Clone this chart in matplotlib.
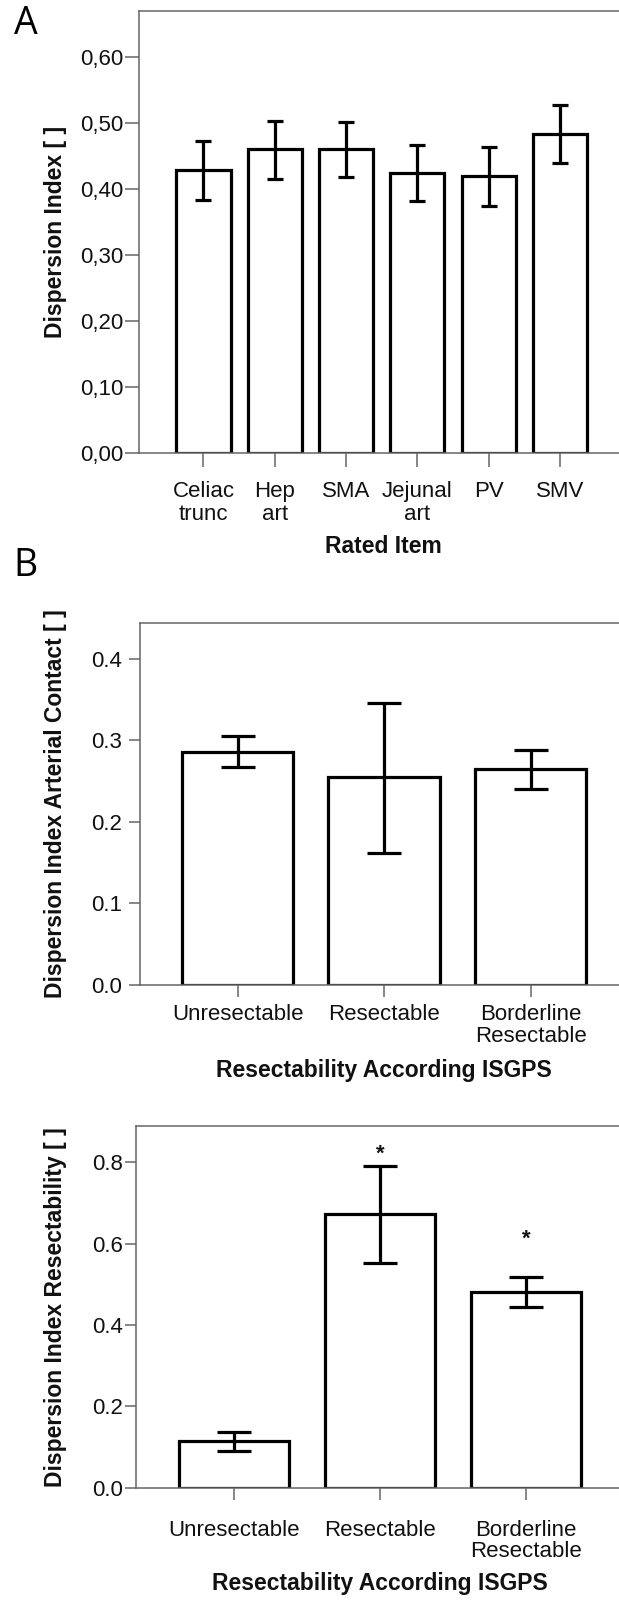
import numpy as np
import matplotlib
matplotlib.use("Agg")
import matplotlib.pyplot as plt

# Panel A - dispersion index per rated item
itemsA = ["Celiac\ntrunc", "Hep\nart", "SMA", "Jejunal\nart", "PV", "SMV"]
meanA = [0.428, 0.460, 0.460, 0.424, 0.419, 0.483]
upperA = [0.473, 0.503, 0.502, 0.466, 0.464, 0.527]
lowerA = [0.383, 0.415, 0.418, 0.381, 0.374, 0.439]
ticksA = [0.0, 0.1, 0.2, 0.3, 0.4, 0.5, 0.6]

# Panel B - arterial contact / resectability by ISGPS group
groups = ["Unresectable", "Resectable", "Borderline\nResectable"]
meanB = [0.286, 0.255, 0.265]
upperB = [0.306, 0.346, 0.288]
lowerB = [0.267, 0.162, 0.241]
ticksB = [0.0, 0.1, 0.2, 0.3, 0.4]

meanC = [0.116, 0.672, 0.481]
upperC = [0.138, 0.791, 0.517]
lowerC = [0.091, 0.552, 0.444]
ticksC = [0.0, 0.2, 0.4, 0.6, 0.8]
starsC = [(1, 0.837), (2, 0.628)]

W, H = 619, 1601
SPINE = "#666666"
TXT = "#111111"
plt.rcParams["font.family"] = ["Liberation Sans", "DejaVu Sans"]

fig = plt.figure(figsize=(W / 100, H / 100), dpi=100)


def addAxes(left, top, bottom, width):
    """Axes placed in pixel coordinates of the figure."""
    return fig.add_axes([left / W, 1 - bottom / H, width / W, (bottom - top) / H])


def barPanel(ax, names, mean, lower, upper, ticks, fmt, xlim, ylim, capsize,
             ytickLen, ypad, xtickLen, xpad, lspace, ylabel, ylabCoords):
    x = np.arange(len(names))
    m = np.array(mean)
    err = [m - np.array(lower), np.array(upper) - m]
    ax.bar(x, m, width=0.76, color="white", edgecolor="black", linewidth=2.3, zorder=2)
    ax.errorbar(x, m, yerr=err, fmt="none", ecolor="black", elinewidth=2.3,
                capsize=capsize, capthick=2.3, zorder=3)
    ax.set_xlim(*xlim)
    ax.set_ylim(*ylim)
    ax.set_yticks(ticks)
    ax.set_yticklabels([fmt(t) for t in ticks], fontsize=16, color=TXT)
    ax.set_xticks(x)
    ax.set_xticklabels(names, fontsize=16, color=TXT, linespacing=lspace)
    ax.spines["right"].set_visible(False)
    for s in ["left", "top", "bottom"]:
        ax.spines[s].set_color(SPINE)
        ax.spines[s].set_linewidth(1.1)
    ax.tick_params(axis="y", direction="out", length=ytickLen, width=1.1,
                   color=SPINE, pad=ypad)
    ax.tick_params(axis="x", direction="out", length=xtickLen, width=1.1,
                   color=SPINE, pad=xpad)
    ax.set_ylabel(ylabel, fontsize=16.5, fontweight="bold", color=TXT, va="center")
    ax.yaxis.set_label_coords(*ylabCoords)


# --- A ---
axA = addAxes(139.3, 10.7, 452.7, 484.8)
barPanel(axA, itemsA, meanA, lowerA, upperA, ticksA, lambda t: f"{t:.2f}".replace(".", ","),
         (-0.9, 5.9), (0, 0.670), 6, 10, 1.5, 10, 10.5, 1.1,
         "Dispersion Index [ ]", (-0.1733, 0.5))
axA.set_xlabel("Rated Item", fontsize=16.5, fontweight="bold", color=TXT, va="center")
axA.xaxis.set_label_coords(0.5027, -0.2115)

# --- B ---
axB = addAxes(140, 622.7, 985, 488.1)
barPanel(axB, groups, meanB, lowerB, upperB, ticksB, lambda t: f"{t:.1f}",
         (-0.666, 2.666), (0, 0.4445), 12, 7.7, 5, 8.4, 5.5, 1.05,
         "Dispersion Index Arterial Contact [ ]", (-0.1735, 0.5))
axB.set_xlabel("Resectability According ISGPS", fontsize=16.5, fontweight="bold",
               color=TXT, va="center")
axB.xaxis.set_label_coords(0.5, -0.236)

# --- C ---
axC = addAxes(136.2, 1125.7, 1487.7, 487.6)
barPanel(axC, groups, meanC, lowerC, upperC, ticksC, lambda t: f"{t:.1f}",
         (-0.67, 2.67), (0, 0.89), 12, 7.7, 1.5, 8.4, 14.5, 1.05,
         "Dispersion Index Resectability [ ]", (-0.1659, 0.5))
axC.set_xlabel("Resectability According ISGPS", fontsize=16.5, fontweight="bold",
               color=TXT, va="center")
axC.xaxis.set_label_coords(0.5, -0.2646)
for sx, sy in starsC:
    axC.annotate("*", xy=(sx, sy), xytext=(0, -9), textcoords="offset points",
                 ha="center", va="baseline", fontsize=16, fontweight="bold", color=TXT)

# panel letters
fig.text(14 / W, 1 - 24.5 / H, "A", fontsize=27, family=["Open Sans", "DejaVu Sans"],
         ha="left", va="center", color="black")
fig.text(13.5 / W, 1 - 565.8 / H, "B", fontsize=27, family=["Open Sans", "DejaVu Sans"],
         ha="left", va="center", color="black")

fig.savefig("out.png", dpi=100, facecolor="white")
